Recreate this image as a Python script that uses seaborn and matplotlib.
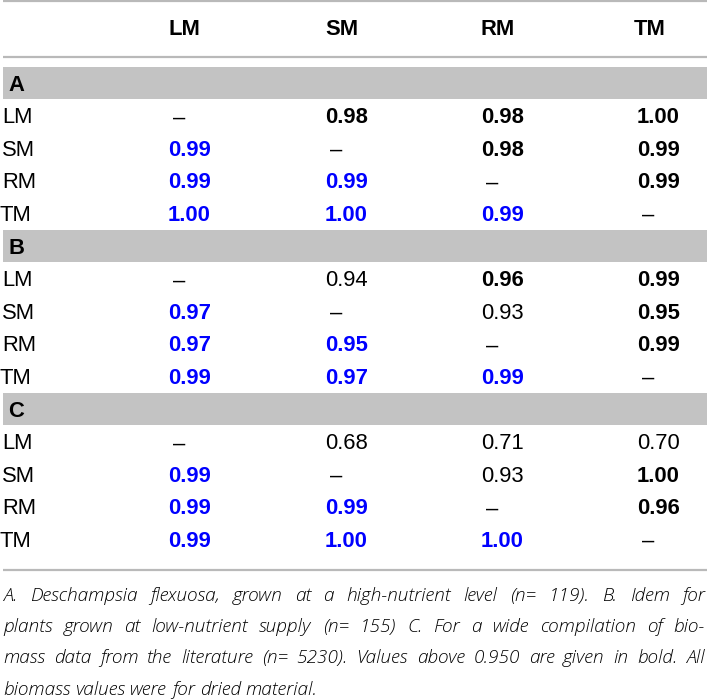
import numpy as np
import pandas as pd
import matplotlib
matplotlib.use("Agg")
import matplotlib.pyplot as plt
import seaborn as sns

# -----------------------------
# Table data
# -----------------------------
columns = ["LM", "SM", "RM", "TM"]
row_labels = ["LM", "SM", "RM", "TM"]
panels = ["A", "B", "C"]

vals_a = [[np.nan, 0.98, 0.98, 1.00],
          [0.99, np.nan, 0.98, 0.99],
          [0.99, 0.99, np.nan, 0.99],
          [1.00, 1.00, 0.99, np.nan]]
vals_b = [[np.nan, 0.94, 0.96, 0.99],
          [0.97, np.nan, 0.93, 0.95],
          [0.97, 0.95, np.nan, 0.99],
          [0.99, 0.97, 0.99, np.nan]]
vals_c = [[np.nan, 0.68, 0.71, 0.70],
          [0.99, np.nan, 0.93, 1.00],
          [0.99, 0.99, np.nan, 0.96],
          [0.99, 1.00, 1.00, np.nan]]

caption_lines = [
    "A. Deschampsia flexuosa, grown at a high-nutrient level (n= 119). B. Idem for",
    "plants grown at low-nutrient supply (n= 155) C. For a wide compilation of bio-",
    "mass data from the literature (n= 5230). Values above 0.950 are given in bold. All",
    "biomass values were for dried material.",
]

tables = {p: pd.DataFrame(v, index=row_labels, columns=columns)
          for p, v in zip(panels, [vals_a, vals_b, vals_c])}

# -----------------------------
# Style
# -----------------------------
sns.set_theme(style="white")
plt.rcParams["font.family"] = ["Liberation Sans", "DejaVu Sans"]
plt.rcParams["text.color"] = "black"

fig = plt.figure(figsize=(7.09, 7.00), dpi=100)
ax = fig.add_axes([0, 0, 1, 1])
ax.set_xlim(0, 709)
ax.set_ylim(700, 0)
ax.axis("off")

fs = 15.8
blue = "#0000ff"
rule = "#b9b9b9"
band = "#c3c3c3"
left, right = 3, 707

col_x = [168, 325, 481, 637]
head_x = [168, 325, 481, 634]
y0, step = 83, 32.6
half = 7.6  # baseline offset to centre the caps

# rules
ax.hlines([1, 57, 570], left, right, color=rule, lw=1.6)

# header
for name, x in zip(columns, head_x):
    ax.text(x, 27 + half, name, fontsize=fs, fontweight="bold", va="baseline")

# panels
for p_i, p in enumerate(panels):
    k = p_i * 5
    yb = y0 + k * step
    ax.fill_between([left, right], yb - step / 2, yb + step / 2, color=band, lw=0)
    ax.text(8, yb + half, p, fontsize=fs, fontweight="bold", va="baseline")
    df = tables[p]
    for r_i, r in enumerate(df.index):
        y = y0 + (k + 1 + r_i) * step + half
        ax.text(0 if r == "TM" else 2, y, r, fontsize=fs, va="baseline")
        for c_i, c in enumerate(df.columns):
            v = df.loc[r, c]
            if np.isnan(v):
                ax.text(col_x[c_i] + 5, y, "\u2013", fontsize=fs, va="baseline")
                continue
            color = blue if r_i > c_i else "black"
            weight = "bold" if v >= 0.95 else "normal"
            ax.text(col_x[c_i], y, f"{v:.2f}", fontsize=fs, color=color,
                    fontweight=weight, va="baseline")

# caption, justified
fig.canvas.draw()
renderer = fig.canvas.get_renderer()
cap_fs = 13.7
cap_font = ["Open Sans", "Liberation Sans", "DejaVu Sans"]
for i, line in enumerate(caption_lines):
    y = 601 + i * 31.2
    words = line.split(" ")
    texts = [ax.text(0, y, w, fontsize=cap_fs, style="italic", family=cap_font,
                     fontweight="light", va="baseline")
             for w in words]
    widths = [t.get_window_extent(renderer).width for t in texts]
    if i < len(caption_lines) - 1:
        gap = (705 - left - sum(widths)) / (len(words) - 1)
    else:
        gap = cap_fs * 0.26 * 100 / 72
    x = left
    for t, w in zip(texts, widths):
        t.set_x(x)
        x += w + gap

fig.savefig("out.png", dpi=100)
